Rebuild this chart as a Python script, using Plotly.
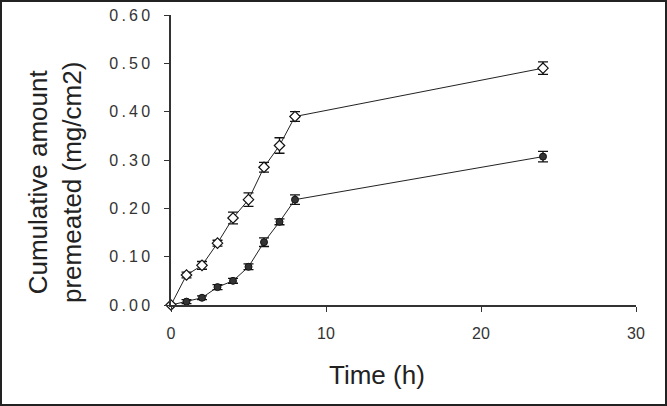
import plotly.graph_objects as go

time_h = [0, 1, 2, 3, 4, 5, 6, 7, 8, 24]
open_series = [0.0, 0.062, 0.082, 0.128, 0.18, 0.218, 0.285, 0.33, 0.39, 0.49]
open_err = [0.0, 0.006, 0.008, 0.006, 0.012, 0.014, 0.01, 0.016, 0.01, 0.013]
filled_series = [0.0, 0.007, 0.015, 0.037, 0.05, 0.079, 0.13, 0.172, 0.218, 0.307]
filled_err = [0.0, 0.004, 0.004, 0.005, 0.005, 0.006, 0.009, 0.006, 0.01, 0.011]
y_ticks = [0.0, 0.1, 0.2, 0.3, 0.4, 0.5, 0.6]
y_ticktext = ['0\u2009.\u20090\u20090', '0\u2009.\u20091\u20090', '0\u2009.\u20092\u20090',
              '0\u2009.\u20093\u20090', '0\u2009.\u20094\u20090', '0\u2009.\u20095\u20090',
              '0\u2009.\u20096\u20090']
x_ticks = [0, 10, 20, 30]

W, H = 667, 406
L, R, T, B = 171, 31, 15, 101
pw, ph = W - L - R, H - T - B

fig = go.Figure()
fig.add_trace(go.Scatter(
    x=time_h, y=filled_series,
    error_y=dict(type='data', array=filled_err, color='#111', thickness=1.3, width=5),
    mode='lines+markers',
    line=dict(color='#222', width=1),
    marker=dict(symbol='circle', size=7, color='#333', line=dict(color='#111', width=1)),
    cliponaxis=False, showlegend=False
))
fig.add_trace(go.Scatter(
    x=time_h, y=open_series,
    error_y=dict(type='data', array=open_err, color='#111', thickness=1.3, width=5),
    mode='lines+markers',
    line=dict(color='#222', width=1),
    marker=dict(symbol='diamond', size=8, color='white', line=dict(color='#111', width=1.2)),
    cliponaxis=False, showlegend=False
))

tick_font = dict(family='Liberation Sans, Arial', size=16, color='#333')
title_font = dict(family='Liberation Sans, Arial', size=26, color='#222')
fig.update_layout(
    width=W, height=H,
    margin=dict(l=L, r=R, t=T, b=B),
    paper_bgcolor='white', plot_bgcolor='white',
    xaxis=dict(range=[0, 30], tickvals=x_ticks, ticks='outside', ticklen=5,
               ticklabelstandoff=8, automargin=False,
               tickcolor='#333', showline=True, linecolor='#333', linewidth=1.5,
               showgrid=False, zeroline=False, tickfont=tick_font),
    yaxis=dict(range=[0, 0.6], tickvals=y_ticks, ticktext=y_ticktext, ticks='outside',
               ticklen=5, ticklabelstandoff=11, automargin=False, tickcolor='#333',
               showline=True, linecolor='#333', linewidth=1.5, showgrid=False,
               zeroline=False, tickfont=tick_font),
    annotations=[
        dict(text='Time (h)', x=(377 - L) / pw, y=-(375 - T - ph) / ph,
             xref='paper', yref='paper', xanchor='center', yanchor='middle',
             showarrow=False, font=title_font),
        dict(text='Cumulative amount<br>premeated (mg/cm2)', x=(55 - L) / pw,
             y=(ph - (183 - T)) / ph, xref='paper', yref='paper',
             xanchor='center', yanchor='middle', showarrow=False,
             textangle=-90, font=title_font),
    ],
    shapes=[dict(type='rect', xref='paper', yref='paper',
                 x0=-(L - 1) / pw, x1=1 + (R - 1) / pw,
                 y0=-(B - 1) / ph, y1=1 + (T - 1) / ph,
                 line=dict(color='#222', width=2))],
)

fig.write_html("out.html", config={'displayModeBar': False},
               post_script="document.body.style.margin='0';")
